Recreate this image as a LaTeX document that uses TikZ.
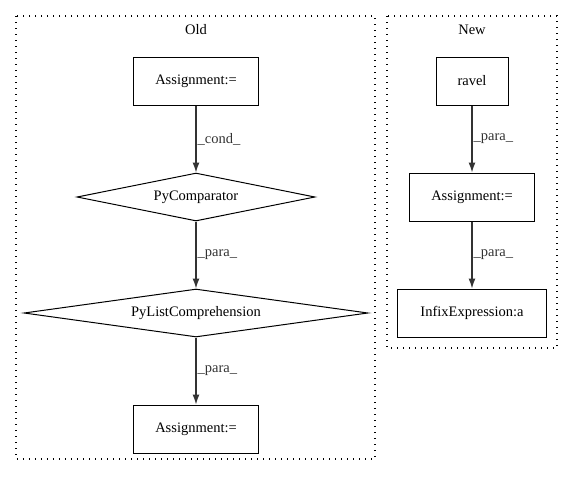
\documentclass[tikz,border=0pt]{standalone}
\usepackage{fontspec}
\setmainfont{Liberation Serif}
\usetikzlibrary{shapes.geometric,arrows.meta}

\begin{document}
\begin{tikzpicture}[x=1pt,y=-1pt,font=\fontsize{14.5}{16}\selectfont,
    box/.style={draw,rectangle,line width=1pt,inner sep=0pt,minimum height=48pt},
    dia/.style={draw,diamond,line width=1pt,inner sep=0pt,minimum height=48pt},
    cluster/.style={draw,line width=1.2pt,dash pattern=on 1.2pt off 4.8pt},
    flow/.style={-{Latex[length=10pt,width=7pt]},line width=1.3pt,black!80}]
              \useasboundingbox (0,0) rectangle (573,480);
              \draw[cluster] (16,16) rectangle (375,459);
              \draw[cluster] (387,16) rectangle (557,348);
              \node (old) at (196,30) {Old};
              \node (new) at (472,30) {New};
              \node[box,minimum width=125pt](a)at(196,81){Assignment:=};
              \node[dia,aspect=5,minimum width=238pt](b)at(196,197){PyComparator};
              \node[dia,aspect=7.2,minimum width=344pt](c)at(196,313){PyListComprehension};
              \node[box,minimum width=125pt](d)at(196,429){Assignment:=};
              \node[box,minimum width=72pt](e)at(472,81){ravel};
              \node[box,minimum width=125pt](f)at(472,197){Assignment:=};
              \node[box,minimum width=149pt](g)at(472,313){InfixExpression:a};
              \draw[flow](a)--node[right,inner sep=1pt]{\_cond\_}(b);
              \draw[flow](b)--node[right,inner sep=1pt]{\_para\_}(c);
              \draw[flow](c)--node[right,inner sep=1pt]{\_para\_}(d);
              \draw[flow](e)--node[right,inner sep=1pt]{\_para\_}(f);
              \draw[flow](f)--node[right,inner sep=1pt]{\_para\_}(g);
\end{tikzpicture}
\end{document}
